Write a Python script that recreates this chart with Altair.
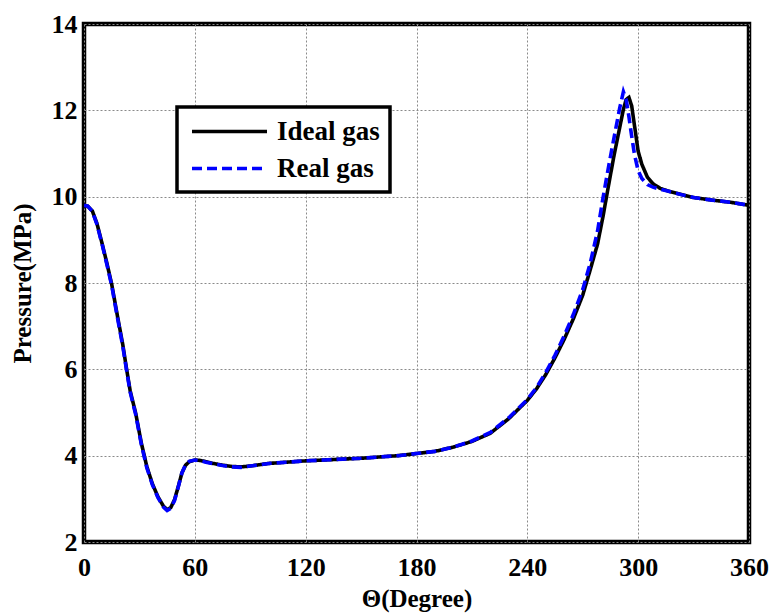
import altair as alt
import pandas as pd

# Crank angle (degrees) and cylinder pressure (MPa) for the two gas models
angle = [0, 2, 4.5, 7, 10, 12.5, 15, 18, 21, 23, 25, 28, 31, 34, 37, 40, 43, 45, 47,
         49, 51, 53, 55, 57, 60, 63, 66, 70, 75, 80, 85, 90, 95, 100, 110, 120, 130,
         140, 150, 160, 170, 180, 190, 200, 210, 220, 230, 240, 245, 250, 255, 260,
         265, 270, 274, 278, 281, 284, 287, 290, 292, 293.5, 295, 296.5, 298, 300,
         302, 305, 308, 312, 317, 325, 330, 340, 350, 360]

ideal_gas = [9.80, 9.78, 9.67, 9.38, 8.88, 8.44, 7.97, 7.26, 6.57, 6.02, 5.50, 4.98,
             4.30, 3.75, 3.35, 3.05, 2.83, 2.75, 2.80, 2.98, 3.28, 3.60, 3.78, 3.86,
             3.90, 3.89, 3.86, 3.82, 3.78, 3.75, 3.74, 3.76, 3.79, 3.82, 3.85, 3.88,
             3.90, 3.92, 3.94, 3.97, 4.00, 4.05, 4.10, 4.20, 4.33, 4.52, 4.86, 5.28,
             5.55, 5.88, 6.27, 6.70, 7.18, 7.72, 8.30, 8.90, 9.55, 10.27, 10.97,
             11.60, 12.02, 12.25, 12.30, 12.10, 11.65, 11.05, 10.75, 10.45, 10.30,
             10.19, 10.12, 10.03, 9.98, 9.92, 9.87, 9.80]

real_gas = [9.80, 9.78, 9.66, 9.36, 8.86, 8.41, 7.94, 7.22, 6.53, 5.99, 5.47, 4.95,
            4.27, 3.72, 3.33, 3.03, 2.81, 2.73, 2.78, 2.96, 3.27, 3.60, 3.79, 3.87,
            3.90, 3.88, 3.85, 3.81, 3.77, 3.74, 3.73, 3.76, 3.79, 3.82, 3.85, 3.88,
            3.90, 3.92, 3.94, 3.97, 4.00, 4.05, 4.10, 4.20, 4.34, 4.54, 4.88, 5.30,
            5.58, 5.93, 6.33, 6.78, 7.28, 7.85, 8.45, 9.20, 9.98, 10.70, 11.38,
            12.05, 12.43, 12.25, 11.85, 11.40, 10.98, 10.60, 10.42, 10.28, 10.22,
            10.17, 10.12, 10.03, 9.98, 9.92, 9.87, 9.80]

series_names = ["Ideal gas", "Real gas"]
series_colors = ["#000000", "#0000ff"]
series_dashes = [[1, 0], [10, 5]]

x_ticks = [0, 60, 120, 180, 240, 300, 360]
y_ticks = [2, 4, 6, 8, 10, 12, 14]

df = pd.concat([
    pd.DataFrame({"angle": angle, "pressure": ideal_gas, "model": series_names[0]}),
    pd.DataFrame({"angle": angle, "pressure": real_gas, "model": series_names[1]}),
])

FONT = "Liberation Serif"

chart = (
    alt.Chart(df)
    .mark_line(strokeWidth=3.6, clip=True)
    .encode(
        x=alt.X(
            "angle:Q",
            scale=alt.Scale(domain=[0, 360], nice=False, zero=False),
            axis=alt.Axis(values=x_ticks, title="Θ(Degree)", labelPadding=12,
                          titlePadding=6, labelFlush=False),
        ),
        y=alt.Y(
            "pressure:Q",
            scale=alt.Scale(domain=[2, 14], nice=False, zero=False),
            axis=alt.Axis(values=y_ticks, title="Pressure(MPa)", labelPadding=7,
                          titlePadding=16, labelFlush=False),
        ),
        color=alt.Color(
            "model:N",
            scale=alt.Scale(domain=series_names, range=series_colors),
            legend=alt.Legend(
                title=None,
                orient="none",
                legendX=93,
                legendY=83,
                symbolType="M-3,0H3",
                symbolSize=625,
                symbolStrokeWidth=3.6,
                symbolOffset=28,
                labelOffset=33,
                labelFontSize=27,
                labelFont=FONT,
                labelFontWeight="bold",
                labelColor="black",
                rowPadding=9,
                padding=10,
                strokeColor="black",
                fillColor="white",
                cornerRadius=0,
            ),
        ),
        strokeDash=alt.StrokeDash(
            "model:N",
            scale=alt.Scale(domain=series_names, range=series_dashes),
            legend=None,
        ),
    )
    .properties(
        width=665,
        height=518,
        autosize=alt.AutoSizeParams(type="none"),
        padding={"left": 84, "top": 24, "right": 22, "bottom": 72},
    )
    .configure_view(stroke="black", strokeWidth=4.5)
    .configure_legend(strokeWidth=3.5)
    .configure_axis(
        domain=False,
        ticks=False,
        grid=True,
        gridColor="#8a8a8a",
        gridDash=[2, 2],
        gridWidth=1,
        labelFont=FONT,
        labelFontSize=26,
        labelFontWeight="bold",
        labelColor="black",
        titleFont=FONT,
        titleFontSize=25,
        titleFontWeight="bold",
        titleColor="black",
    )
)

chart.save("out.html", embed_options={"renderer": "svg", "actions": False})
